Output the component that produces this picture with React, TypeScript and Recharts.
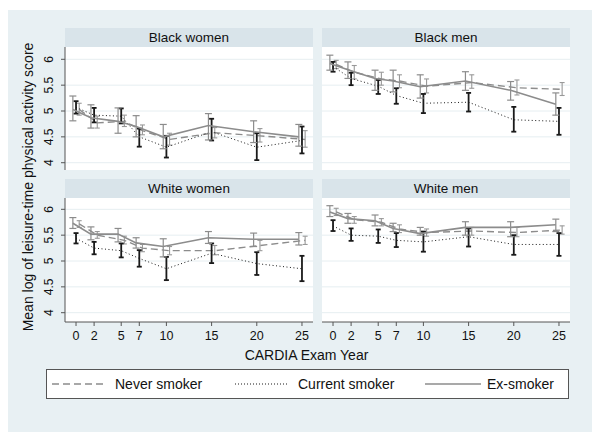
import React from 'react';
import { LineChart, Line, XAxis, YAxis, CartesianGrid, ErrorBar } from 'recharts';

const years = [0, 2, 5, 7, 10, 15, 20, 25];
const yTicks = [4, 4.5, 5, 5.5, 6];
const seriesNames = ['Never smoker', 'Current smoker', 'Ex-smoker'];
const panelTitles = ['Black women', 'Black men', 'White women', 'White men'];
const xTitle = 'CARDIA Exam Year';
const yTitle = 'Mean log of leisure-time physical activity score';

// Black women
const bwNever = [5.03, 4.77, 4.8, 4.62, 4.45, 4.58, 4.52, 4.45];
const bwNeverLo = [4.92, 4.67, 4.7, 4.54, 4.34, 4.48, 4.4, 4.3];
const bwNeverHi = [5.15, 4.9, 4.92, 4.73, 4.57, 4.68, 4.66, 4.62];
const bwCurrent = [5.07, 4.92, 4.9, 4.5, 4.3, 4.6, 4.3, 4.43];
const bwCurrentLo = [4.95, 4.78, 4.76, 4.31, 4.1, 4.43, 4.05, 4.18];
const bwCurrentHi = [5.19, 5.06, 5.05, 4.66, 4.52, 4.85, 4.57, 4.7];
const bwEx = [5.03, 4.87, 4.8, 4.7, 4.5, 4.72, 4.6, 4.5];
const bwExLo = [4.81, 4.67, 4.57, 4.5, 4.27, 4.44, 4.39, 4.32];
const bwExHi = [5.29, 5.12, 5.06, 4.91, 4.74, 4.95, 4.81, 4.74];

// Black men
const bmNever = [5.9, 5.75, 5.62, 5.58, 5.48, 5.55, 5.45, 5.42];
const bmNeverLo = [5.82, 5.62, 5.5, 5.45, 5.35, 5.44, 5.31, 5.3];
const bmNeverHi = [5.98, 5.88, 5.75, 5.7, 5.62, 5.7, 5.6, 5.55];
const bmCurrent = [5.86, 5.63, 5.48, 5.3, 5.15, 5.17, 4.83, 4.8];
const bmCurrentLo = [5.76, 5.5, 5.33, 5.14, 4.96, 4.99, 4.6, 4.54];
const bmCurrentHi = [5.95, 5.74, 5.6, 5.44, 5.33, 5.35, 5.08, 5.06];
const bmEx = [5.92, 5.8, 5.63, 5.58, 5.47, 5.58, 5.4, 5.13];
const bmExLo = [5.79, 5.63, 5.4, 5.37, 5.25, 5.4, 5.21, 4.92];
const bmExHi = [6.08, 5.95, 5.79, 5.79, 5.7, 5.76, 5.57, 5.35];

// White women
const wwNever = [5.72, 5.5, 5.4, 5.25, 5.2, 5.2, 5.3, 5.4];
const wwNeverLo = [5.65, 5.44, 5.33, 5.18, 5.12, 5.12, 5.2, 5.32];
const wwNeverHi = [5.78, 5.57, 5.48, 5.32, 5.28, 5.3, 5.4, 5.48];
const wwCurrent = [5.44, 5.25, 5.2, 5.05, 4.85, 5.15, 4.95, 4.85];
const wwCurrentLo = [5.34, 5.13, 5.07, 4.89, 4.63, 4.96, 4.73, 4.61];
const wwCurrentHi = [5.54, 5.37, 5.34, 5.21, 5.08, 5.34, 5.17, 5.1];
const wwEx = [5.73, 5.52, 5.52, 5.35, 5.28, 5.45, 5.42, 5.42];
const wwExLo = [5.63, 5.41, 5.37, 5.25, 5.08, 5.34, 5.28, 5.31];
const wwExHi = [5.84, 5.66, 5.63, 5.45, 5.43, 5.57, 5.54, 5.55];

// White men
const wmNever = [5.95, 5.8, 5.75, 5.62, 5.55, 5.58, 5.55, 5.6];
const wmNeverLo = [5.88, 5.73, 5.68, 5.55, 5.48, 5.5, 5.47, 5.52];
const wmNeverHi = [6.02, 5.86, 5.82, 5.7, 5.62, 5.65, 5.65, 5.68];
const wmCurrent = [5.68, 5.5, 5.48, 5.4, 5.37, 5.47, 5.32, 5.32];
const wmCurrentLo = [5.58, 5.39, 5.35, 5.27, 5.18, 5.28, 5.12, 5.1];
const wmCurrentHi = [5.79, 5.63, 5.61, 5.54, 5.57, 5.63, 5.5, 5.54];
const wmEx = [5.95, 5.82, 5.78, 5.63, 5.53, 5.65, 5.65, 5.7];
const wmExLo = [5.86, 5.73, 5.68, 5.57, 5.5, 5.5, 5.47, 5.57];
const wmExHi = [6.07, 5.92, 5.89, 5.73, 5.65, 5.76, 5.76, 5.81];

const FONT = '"Liberation Sans", Arial, Helvetica, sans-serif';
const GRAY = '#8c8c8c';
const DARK = '#1a1a1a';

type S = { m: number[]; lo: number[]; hi: number[] };

const mk = (s: S, off: number) =>
  years.map((y, i) => ({ x: y + off, v: s.m[i], err: [s.m[i] - s.lo[i], s.hi[i] - s.m[i]] }));

const YTick = (props: any) => {
  const { y, payload } = props;
  return (
    <text
      x={13.5}
      y={y}
      transform={`rotate(-90 13.5 ${y})`}
      textAnchor="middle"
      fontSize={12}
      fontFamily={FONT}
      fill="#111"
    >
      {payload.value}
    </text>
  );
};

function Panel(props: {
  left: number;
  top: number;
  width: number;
  height: number;
  showY: boolean;
  showX: boolean;
  domain: [number, number];
  never: S;
  current: S;
  ex: S;
}) {
  const { left, top, width, height, showY, showX, domain, never, current, ex } = props;
  return (
    <div style={{ position: 'absolute', left, top }}>
      <LineChart width={width} height={height} margin={{ top: 0, right: 0, bottom: 0, left: 0 }}>
        <CartesianGrid fill="#ffffff" vertical={false} stroke="#e6eef1" horizontalValues={yTicks} />
        <XAxis
          type="number"
          dataKey="x"
          domain={[-1.22, 26.22]}
          ticks={years}
          interval={0}
          allowDataOverflow
          hide={!showX}
          height={25}
          tickSize={4}
          tickLine={{ stroke: '#555' }}
          axisLine={{ stroke: '#555' }}
          tick={{ fontSize: 12.5, fontFamily: FONT, fill: '#111', dy: 3 }}
        />
        <YAxis
          type="number"
          domain={domain}
          ticks={yTicks}
          interval={0}
          allowDataOverflow
          hide={!showY}
          width={25}
          tickSize={4}
          tickLine={{ stroke: '#555' }}
          axisLine={{ stroke: '#555' }}
          tick={<YTick />}
        />
        <Line
          data={mk(never, 0.35)}
          dataKey="v"
          stroke={GRAY}
          strokeWidth={1.4}
          strokeDasharray="7 4"
          dot={false}
          isAnimationActive={false}
        >
          <ErrorBar dataKey="err" direction="y" width={2.5} stroke="#999" strokeWidth={1.1} />
        </Line>
        <Line
          data={mk(current, 0)}
          dataKey="v"
          stroke={DARK}
          strokeWidth={1}
          strokeDasharray="1 2.5"
          dot={false}
          isAnimationActive={false}
        >
          <ErrorBar dataKey="err" direction="y" width={2.5} stroke={DARK} strokeWidth={1.8} />
        </Line>
        <Line
          data={mk(ex, -0.35)}
          dataKey="v"
          stroke={GRAY}
          strokeWidth={1.6}
          dot={false}
          isAnimationActive={false}
        >
          <ErrorBar dataKey="err" direction="y" width={3.5} stroke={GRAY} strokeWidth={1.2} />
        </Line>
      </LineChart>
    </div>
  );
}

const Header = ({ left, top, text }: { left: number; top: number; text: string }) => (
  <div
    style={{
      position: 'absolute',
      left,
      top,
      width: 248,
      height: 19,
      background: '#d9e4ea',
      fontFamily: FONT,
      fontSize: 13.5,
      lineHeight: '19px',
      textAlign: 'center',
      color: '#111',
    }}
  >
    {text}
  </div>
);

export default function App() {
  const topDomain: [number, number] = [3.859, 6.238];
  const botDomain: [number, number] = [3.82, 6.219];
  return (
    <div style={{ position: 'absolute', left: 0, top: 0, width: 600, height: 441, background: '#fff' }}>
      <div style={{ position: 'absolute', left: 8, top: 10, width: 584, height: 422, background: '#e8f0f3' }} />
      <Header left={65} top={28} text={panelTitles[0]} />
      <Header left={322} top={28} text={panelTitles[1]} />
      <Header left={65} top={179} text={panelTitles[2]} />
      <Header left={322} top={179} text={panelTitles[3]} />
      <Panel left={40} top={47} width={273} height={123} showY showX={false} domain={topDomain}
        never={{ m: bwNever, lo: bwNeverLo, hi: bwNeverHi }}
        current={{ m: bwCurrent, lo: bwCurrentLo, hi: bwCurrentHi }}
        ex={{ m: bwEx, lo: bwExLo, hi: bwExHi }} />
      <Panel left={322} top={47} width={248} height={123} showY={false} showX={false} domain={topDomain}
        never={{ m: bmNever, lo: bmNeverLo, hi: bmNeverHi }}
        current={{ m: bmCurrent, lo: bmCurrentLo, hi: bmCurrentHi }}
        ex={{ m: bmEx, lo: bmExLo, hi: bmExHi }} />
      <Panel left={40} top={198} width={273} height={149} showY showX domain={botDomain}
        never={{ m: wwNever, lo: wwNeverLo, hi: wwNeverHi }}
        current={{ m: wwCurrent, lo: wwCurrentLo, hi: wwCurrentHi }}
        ex={{ m: wwEx, lo: wwExLo, hi: wwExHi }} />
      <Panel left={322} top={198} width={248} height={149} showY={false} showX domain={botDomain}
        never={{ m: wmNever, lo: wmNeverLo, hi: wmNeverHi }}
        current={{ m: wmCurrent, lo: wmCurrentLo, hi: wmCurrentHi }}
        ex={{ m: wmEx, lo: wmExLo, hi: wmExHi }} />
      <svg style={{ position: 'absolute', left: 0, top: 0 }} width={600} height={441}>
        <text x={33} y={187} transform="rotate(-90 33 187)" textAnchor="middle" fontSize={14} fontFamily={FONT} fill="#111">
          {yTitle}
        </text>
        <text x={306.5} y={360} textAnchor="middle" fontSize={14} fontFamily={FONT} fill="#111">
          {xTitle}
        </text>
        <rect x={46.5} y={369.5} width={522} height={29} fill="#fff" stroke="#555" strokeWidth={1} />
        <line x1={52} y1={384} x2={104} y2={384} stroke={GRAY} strokeWidth={1.4} strokeDasharray="7 4" />
        <text x={115} y={389} fontSize={14} fontFamily={FONT} fill="#111">{seriesNames[0]}</text>
        <line x1={235} y1={384} x2={288} y2={384} stroke={DARK} strokeWidth={1} strokeDasharray="1 2" />
        <text x={298} y={389} fontSize={14} fontFamily={FONT} fill="#111">{seriesNames[1]}</text>
        <line x1={425} y1={384} x2={481} y2={384} stroke={GRAY} strokeWidth={1.6} />
        <text x={487} y={389} fontSize={14} fontFamily={FONT} fill="#111">{seriesNames[2]}</text>
      </svg>
    </div>
  );
}
